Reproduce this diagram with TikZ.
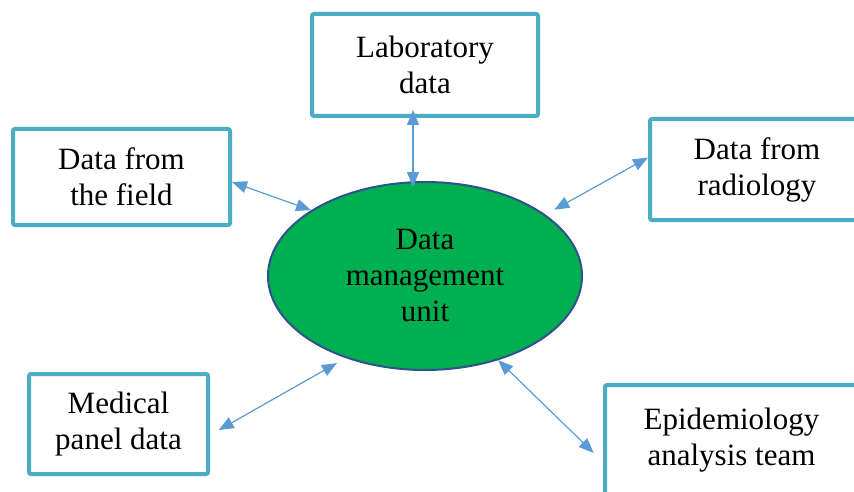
\documentclass[tikz,border=0pt]{standalone}
\usepackage{fontspec}
\setmainfont{Liberation Serif}
\usetikzlibrary{arrows.meta,shapes.geometric}
\definecolor{boxline}{HTML}{4BACC6}
\definecolor{linkblue}{HTML}{5B9BD5}
\definecolor{unitgreen}{HTML}{00B050}
\definecolor{unitline}{HTML}{2F528F}
\begin{document}
\begin{tikzpicture}[x=1pt,y=1pt,>={Triangle[length=15pt,width=12pt]},font=\fontsize{31}{36}\selectfont,
	box/.style={draw=boxline,line width=4pt,rounded corners=2pt,fill=white,align=center,inner sep=0pt},
	hub/.style={ellipse,draw=unitline,line width=2pt,fill=unitgreen,align=center,minimum width=314pt,minimum height=188pt,inner sep=0pt},
	link/.style={<->,color=linkblue,line width=1.2pt}]
				\useasboundingbox (0,0) rectangle (854,491);
				\clip (0,0) rectangle (854,491);
				\node[hub] (unit) at (425,215) {Data\\management\\unit};
				\node[box,minimum width=226pt,minimum height=102pt] (lab) at (425,426) {Laboratory\\data};
				\node[box,minimum width=217pt,minimum height=96pt] (field) at (121.5,314) {Data from\\the field};
				\node[box,minimum width=214pt,minimum height=101pt] (radio) at (757,321.5) {Data from\\radiology};
				\node[box,minimum width=179pt,minimum height=100pt] (panel) at (118.5,67) {Medical\\panel data};
				\node[box,minimum width=253pt,minimum height=110pt] (epi) at (731.5,51) {Epidemiology\\analysis team};
				\draw[link] ([xshift=-12pt,yshift=8pt]lab.south)--([xshift=-12pt,yshift=-6pt]unit.north);
				\draw[link] ([yshift=-5pt]field.east)--(unit.150);
				\draw[link,shorten >=10pt] ([yshift=12pt]radio.west)--(unit.27);
				\draw[link,shorten <=10pt,shorten >=10pt] ([yshift=-11pt]panel.east)--(unit.226);
				\draw[link,shorten <=13pt] ([yshift=-22pt]epi.west)--(unit.-49);
			\end{tikzpicture}
\end{document}
